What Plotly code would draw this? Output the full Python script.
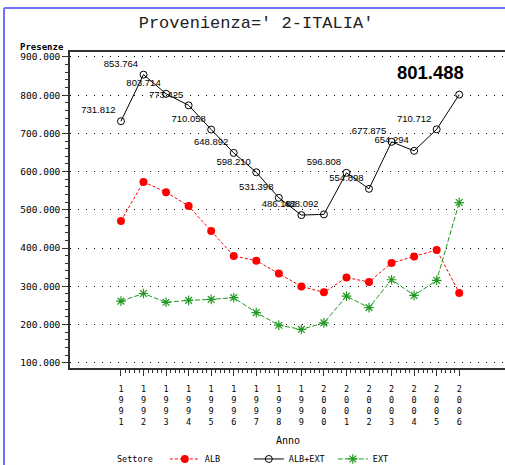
import plotly.graph_objects as go

# Presenze per anno, Provenienza 2-ITALIA
years = list(range(1991, 2007))
alb_ext = [731812, 853764, 803714, 773425, 710058, 648892, 598210, 531398,
           486182, 488092, 596808, 554898, 677875, 654294, 710712, 801488]
alb = [470800, 573000, 546000, 510000, 444600, 379000, 367000, 333500,
       299500, 284000, 322800, 311000, 361000, 378000, 395000, 282500]
ext = [261000, 281000, 258000, 263000, 265500, 270000, 231000, 198000,
       187000, 204000, 274000, 244000, 317000, 276000, 315500, 519000]
y_ticks = [100000, 200000, 300000, 400000, 500000, 600000, 700000, 800000, 900000]

mono = "DejaVu Sans Mono"
axis_col = "#333333"

def fmt(v):
    return f"{v:,}".replace(",", ".")

labels = [fmt(v) for v in alb_ext[:-1]] + [""]

fig = go.Figure()
fig.add_trace(go.Scatter(
    x=years, y=alb, name="ALB", mode="lines+markers",
    line=dict(color="red", width=1, dash="3px,2px"),
    marker=dict(symbol="circle", size=8, color="red")))
fig.add_trace(go.Scatter(
    x=years, y=alb_ext, name="ALB+EXT", mode="lines+markers+text",
    text=labels, textposition="top left",
    textfont=dict(family="Liberation Sans", size=9.5, color="black"),
    line=dict(color="black", width=1),
    marker=dict(symbol="circle-open", size=7, color="black", line=dict(width=1))))
fig.add_trace(go.Scatter(
    x=years, y=ext, name="EXT", mode="lines+markers",
    line=dict(color="#229922", width=1, dash="5px,2px"),
    marker=dict(symbol="asterisk-open", size=8, color="#229922",
                line=dict(color="#229922", width=1.2))))

# etichetta grande ultimo anno
fig.add_annotation(x=years[-1], y=alb_ext[-1], text=fmt(alb_ext[-1]),
                   showarrow=False, xanchor="center", yanchor="bottom",
                   xshift=-29, yshift=10,
                   font=dict(family="Liberation Sans", size=18.5,
                             color="black", weight="bold"))

fig.add_annotation(x=-0.01, y=1.0, xref="paper", yref="paper", text="<b>Presenze</b>",
                   showarrow=False, xanchor="right", yanchor="bottom", yshift=-2,
                   font=dict(family=mono, size=9, color="black"))
fig.add_annotation(x=0.5, y=-0.23, xref="paper", yref="paper", text="Anno",
                   showarrow=False, xanchor="center", yanchor="middle",
                   font=dict(family=mono, size=10, color="black"))
# titolo legenda
fig.add_annotation(x=0.1034, y=-0.288, xref="paper", yref="paper", text="Settore",
                   showarrow=False, xanchor="left", yanchor="middle",
                   font=dict(family=mono, size=8.5, color="black"))

# bordo blu
fig.add_shape(type="line", xref="paper", yref="paper", x0=-0.1517, x1=-0.1517,
              y0=-0.35, y1=1.139, line=dict(color="#7070ff", width=2))
fig.add_shape(type="line", xref="paper", yref="paper", x0=-0.1517, x1=1.05,
              y0=1.139, y1=1.139, line=dict(color="#7070ff", width=2))

minor_x = [y + k / 5 for y in years[:-1] for k in range(1, 5)]

fig.update_layout(
    width=505, height=465,
    margin=dict(l=70, r=0, t=52, b=97),
    plot_bgcolor="white", paper_bgcolor="white",
    separators=",.",
    title=dict(text="Provenienza=' 2-ITALIA'", x=0.507, xref="container",
               y=0.952, yref="container", xanchor="center", yanchor="middle",
               font=dict(family="Liberation Mono", size=17, color="#222222")),
    xaxis=dict(range=[1988.74, 2008.03], tickmode="array", tickvals=years,
               ticktext=["<br>".join(str(y)) for y in years],
               ticks="outside", ticklen=6, tickcolor=axis_col,
               ticklabelstandoff=6,
               showline=True, linecolor=axis_col, linewidth=1.5, mirror=True,
               showgrid=False, zeroline=False,
               tickfont=dict(family=mono, size=8.5, color="black"),
               minor=dict(tickmode="array", tickvals=minor_x, ticks="outside",
                          ticklen=3, tickcolor=axis_col)),
    yaxis=dict(range=[86000, 913000], tickmode="array", tickvals=y_ticks,
               tickformat=",d", ticks="outside", ticklen=6, tickcolor=axis_col,
               showline=True, linecolor=axis_col, linewidth=1.5,
               showgrid=True, gridcolor="black", griddash="1px,7px", gridwidth=1,
               zeroline=False,
               tickfont=dict(family=mono, size=9.5, color="black"),
               minor=dict(dtick=20000, tick0=0, ticks="outside", ticklen=3,
                          tickcolor=axis_col)),
    legend=dict(orientation="h", x=0.218, y=0.013, xref="paper", yref="container",
                xanchor="left", yanchor="middle",
                font=dict(family=mono, size=8.5, color="black"),
                entrywidth=39, entrywidthmode="pixels",
                bgcolor="rgba(0,0,0,0)"),
)

fig.write_html("out.html", config={"displayModeBar": False},
               post_script="document.body.style.margin='0px';")
